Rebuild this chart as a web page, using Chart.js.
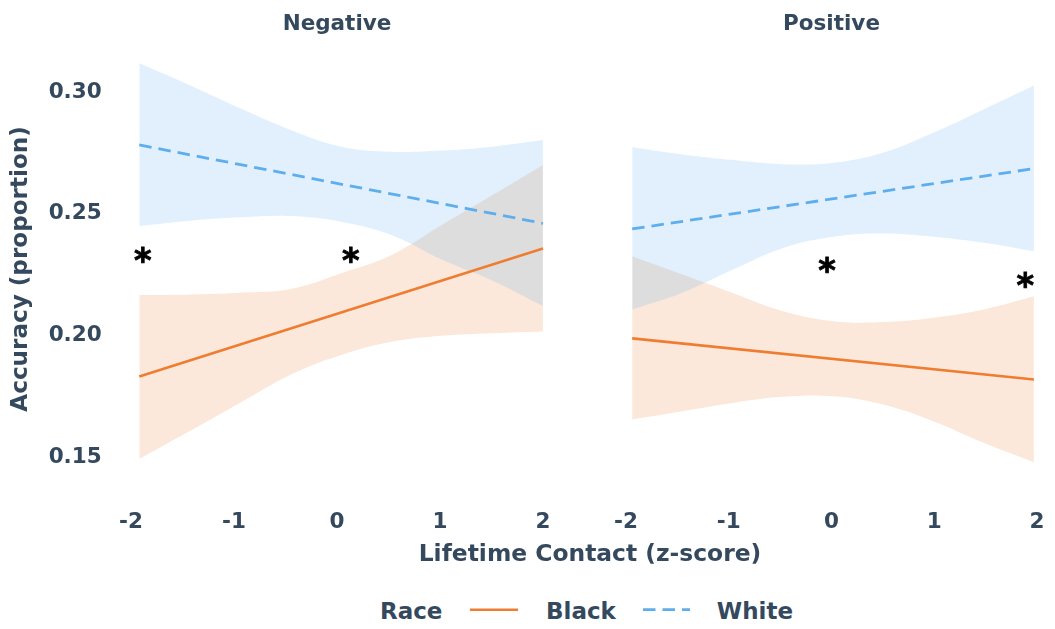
<!DOCTYPE html>
<html>
<head>
<meta charset="utf-8">
<script src="https://cdn.jsdelivr.net/npm/chart.js@4.4.1/dist/chart.umd.min.js"></script>
<style>
  html, body { margin: 0; padding: 0; background: #ffffff; }
  body {
    width: 1055px; height: 629px; position: relative; overflow: hidden;
    font-family: 'DejaVu Sans', sans-serif; font-weight: bold; color: #34495e;
  }
  #negWrap { position: absolute; left: 0; top: 0; width: 562px; height: 540px; }
  #posWrap { position: absolute; left: 560px; top: 0; width: 495px; height: 540px; }
  canvas { display: block; }
  #xTitle {
    position: absolute; left: 390px; top: 538px; width: 400px; height: 30px;
    line-height: 30px; text-align: center; font-size: 23.4px; white-space: nowrap;
  }
  #legend {
    position: absolute; left: 380px; top: 596px; height: 30px;
    display: flex; align-items: center; font-size: 23px; line-height: 30px; white-space: nowrap;
  }
  #legend svg { display: block; }
</style>
</head>
<body>
<div id="negWrap"><canvas id="negChart" width="562" height="540"></canvas></div>
<div id="posWrap"><canvas id="posChart" width="495" height="540"></canvas></div>
<div id="xTitle">Lifetime Contact (z-score)</div>
<div id="legend">
  <span>Race</span>
  <svg width="48" height="30" style="margin-left:27.5px"><line x1="0" y1="13.7" x2="48" y2="13.7" stroke="#ee7d31" stroke-width="2.6"/></svg>
  <span style="margin-left:28px">Black</span>
  <svg width="47" height="30" style="margin-left:27px"><line x1="0" y1="13.7" x2="47" y2="13.7" stroke="#5eaeee" stroke-width="2.8" stroke-dasharray="12.5 7"/></svg>
  <span style="margin-left:27px">White</span>
</div>
<script>
const xTicks = [-2, -1, 0, 1, 2];
const yTicks = [0.15, 0.20, 0.25, 0.30];

// Negative contact panel: contact values where the bands are sampled, fitted line end points
const negGrid      = [-1.92, -1.43, -0.94, -0.45, 0.04, 0.53, 1.02, 1.51, 2.00];
const negFitX      = [-1.92, 2.00];
const negBlackFit  = [0.1820, 0.2347];
const negBlackLow  = [0.1481, 0.1596, 0.1713, 0.1828, 0.1909, 0.1963, 0.1988, 0.1998, 0.2005];
const negBlackHigh = [0.2155, 0.2158, 0.2165, 0.2180, 0.2245, 0.2320, 0.2444, 0.2566, 0.2690];
const negWhiteFit  = [0.2772, 0.2450];
const negWhiteLow  = [0.2439, 0.2461, 0.2475, 0.2480, 0.2457, 0.2402, 0.2300, 0.2214, 0.2110];
const negWhiteHigh = [0.3108, 0.3018, 0.2923, 0.2834, 0.2765, 0.2744, 0.2749, 0.2765, 0.2792];

// Positive contact panel
const posGrid      = [-1.94, -1.45, -0.96, -0.47, 0.02, 0.50, 0.99, 1.48, 1.97];
const posFitX      = [-1.94, 1.97];
const posBlackFit  = [0.1977, 0.1808];
const posBlackLow  = [0.1644, 0.1678, 0.1712, 0.1737, 0.1739, 0.1705, 0.1637, 0.1548, 0.1468];
const posBlackHigh = [0.2315, 0.2240, 0.2164, 0.2089, 0.2048, 0.2044, 0.2062, 0.2096, 0.2150];
const posWhiteFit  = [0.2427, 0.2675];
const posWhiteLow  = [0.2096, 0.2165, 0.2260, 0.2349, 0.2395, 0.2408, 0.2395, 0.2370, 0.2335];
const posWhiteHigh = [0.2763, 0.2733, 0.2710, 0.2693, 0.2699, 0.2740, 0.2822, 0.2918, 0.3016];

// Significance markers (contact value, accuracy level)
const negStarX = [-1.888, 0.131];
const negStarY = [0.2320, 0.2320];
const posStarX = [-0.047, 1.883];
const posStarY = [0.2279, 0.2217];

const INK = '#34495e';
const BLACK_LINE = '#ee7d31';
const BLACK_BAND = 'rgba(238,125,49,0.18)';
const WHITE_LINE = '#5eaeee';
const WHITE_BAND = 'rgba(94,174,238,0.19)';
const FONT = "'DejaVu Sans', sans-serif";

Chart.defaults.font.family = FONT;
Chart.defaults.font.weight = 'bold';
Chart.defaults.color = INK;

const pts = (xs, ys) => xs.map((x, i) => ({ x: x, y: ys[i] }));

function bandEdge(data, fillTarget, color, order) {
  return {
    data: data,
    borderWidth: 0,
    borderColor: 'rgba(0,0,0,0)',
    backgroundColor: color,
    pointRadius: 0,
    tension: 0.4,
    fill: fillTarget,
    order: order
  };
}

function panelDatasets(grid, fitX, bLow, bHigh, bFit, wLow, wHigh, wFit) {
  return [
    bandEdge(pts(grid, bLow), false, BLACK_BAND, 4),
    bandEdge(pts(grid, bHigh), 0, BLACK_BAND, 4),
    bandEdge(pts(grid, wLow), false, WHITE_BAND, 3),
    bandEdge(pts(grid, wHigh), 2, WHITE_BAND, 3),
    { label: 'Black', data: pts(fitX, bFit), borderColor: BLACK_LINE, borderWidth: 2.6,
      pointRadius: 0, fill: false, tension: 0, order: 2 },
    { label: 'White', data: pts(fitX, wFit), borderColor: WHITE_LINE, borderWidth: 2.8,
      borderDash: [12.5, 7], pointRadius: 0, fill: false, tension: 0, order: 1 }
  ];
}

// Draws the asterisks, centred on their ink box
const starPlugin = {
  id: 'stars',
  afterDatasetsDraw(chart, args, opts) {
    const { ctx } = chart;
    const xs = chart.scales.x, ys = chart.scales.y;
    ctx.save();
    ctx.font = 'bold 100px ' + FONT;
    let m = ctx.measureText('*');
    const size = 100 * 16.5 / (m.actualBoundingBoxRight + m.actualBoundingBoxLeft);
    ctx.font = 'bold ' + size.toFixed(2) + 'px ' + FONT;
    m = ctx.measureText('*');
    ctx.fillStyle = '#000000';
    ctx.strokeStyle = '#000000';
    ctx.lineWidth = 0.8;
    ctx.textAlign = 'left';
    ctx.textBaseline = 'alphabetic';
    const cx = (m.actualBoundingBoxRight - m.actualBoundingBoxLeft) / 2;
    const cy = (m.actualBoundingBoxDescent - m.actualBoundingBoxAscent) / 2;
    opts.xs.forEach((xv, i) => {
      const px = xs.getPixelForValue(xv) - cx, py = ys.getPixelForValue(opts.ys[i]) - cy;
      ctx.fillText('*', px, py);
      ctx.strokeText('*', px, py);
    });
    ctx.restore();
  }
};

function makeChart(id, title, datasets, stars, showY, padding) {
  return new Chart(document.getElementById(id), {
    type: 'line',
    data: { datasets: datasets },
    options: {
      responsive: false,
      animation: false,
      devicePixelRatio: 1,
      layout: { padding: padding, autoPadding: false },
      plugins: {
        legend: { display: false },
        tooltip: { enabled: false },
        title: {
          display: true, text: title, fullSize: false, color: INK,
          font: { size: 21.5, weight: 'bold' },
          padding: { top: 11.1, bottom: 22.2 }
        },
        stars: stars
      },
      scales: {
        x: {
          type: 'linear', min: -2.15, max: 2.15,
          afterBuildTicks: s => { s.ticks = xTicks.map(v => ({ value: v })); },
          afterFit: s => { s.height = 61.2; s.paddingLeft = 0; s.paddingRight = 0; },
          grid: { display: false, drawTicks: false },
          border: { display: false },
          ticks: { padding: 31, color: INK, font: { size: 21.5, weight: 'bold' },
                   callback: v => String(v) }
        },
        y: {
          display: showY, min: 0.14, max: 0.3125,
          afterBuildTicks: s => { s.ticks = yTicks.map(v => ({ value: v })); },
          afterFit: s => { s.width = showY ? 115.6 : 0; s.paddingTop = 0; s.paddingBottom = 0; },
          grid: { display: false, drawTicks: false },
          border: { display: false },
          ticks: { padding: 13.9, labelOffset: 2.5, color: INK, font: { size: 21.5, weight: 'bold' },
                   callback: v => Number(v).toFixed(2) },
          title: {
            display: true, text: 'Accuracy (proportion)', color: INK,
            font: { size: 23.1, weight: 'bold' },
            padding: { top: 7.2, bottom: 0 }
          }
        }
      }
    },
    plugins: [starPlugin]
  });
}

makeChart('negChart', 'Negative',
  panelDatasets(negGrid, negFitX, negBlackLow, negBlackHigh, negBlackFit, negWhiteLow, negWhiteHigh, negWhiteFit),
  { xs: negStarX, ys: negStarY }, true,
  { left: 0, right: 3.6, top: 0, bottom: 0 });

makeChart('posChart', 'Positive',
  panelDatasets(posGrid, posFitX, posBlackLow, posBlackHigh, posBlackFit, posWhiteLow, posWhiteHigh, posWhiteFit),
  { xs: posStarX, ys: posStarY }, false,
  { left: 50.6, right: 2.6, top: 0, bottom: 0 });
</script>
</body>
</html>
